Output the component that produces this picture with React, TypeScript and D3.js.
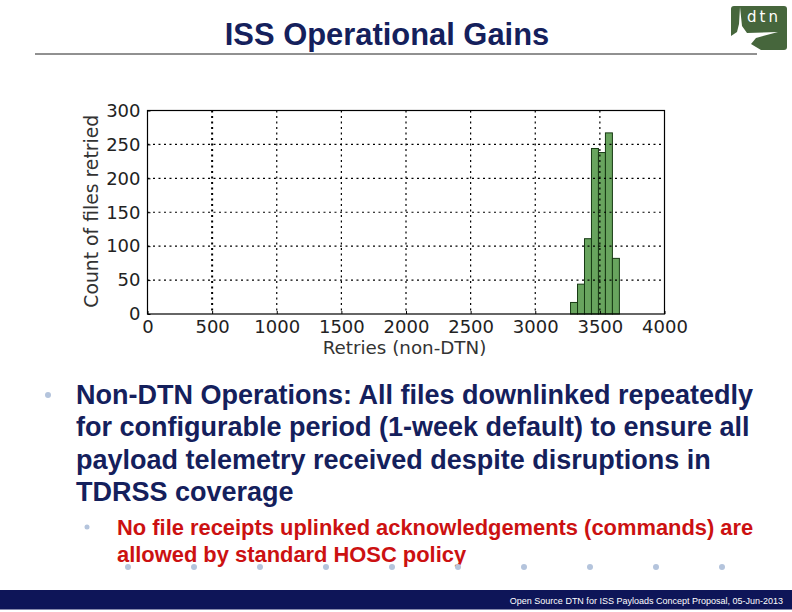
import * as d3 from 'd3';
import { useEffect, useRef } from 'react';

// histogram bins
const binStarts = [3273, 3327, 3381, 3435, 3489, 3543, 3597];
const binWidth = 54;
const counts = [17, 44, 111, 244, 238, 267, 82];

const xTicks = [0, 500, 1000, 1500, 2000, 2500, 3000, 3500, 4000];
const yTicks = [0, 50, 100, 150, 200, 250, 300];

const title = 'ISS Operational Gains';
const xLabel = 'Retries (non-DTN)';
const yLabel = 'Count of files retried';
const bulletLines = [
    'Non-DTN Operations: All files downlinked repeatedly',
    'for configurable period (1-week default) to ensure all',
    'payload telemetry received despite disruptions in',
    'TDRSS coverage',
];
const subBulletLines = [
    'No file receipts uplinked acknowledgements (commands) are',
    'allowed by standard HOSC policy',
];
const footer = 'Open Source DTN for ISS Payloads Concept Proposal, 05-Jun-2013';
const stripDots = [128, 194, 260, 326, 392, 458, 524, 590, 656, 722];

export default function App() {
    const ref = useRef<any>();

    useEffect(() => {
        const svg = d3.select<any, any>(ref.current);
        svg.selectAll('*').remove();

        const margin = { top: 110.5, right: 127.5, bottom: 298, left: 147.5 };
        const width = 792;
        const height = 612;
        const innerW = width - margin.left - margin.right;
        const innerH = height - margin.top - margin.bottom;

        // slide furniture
        svg.append('rect').attr('width', width).attr('height', height).attr('fill', '#ffffff');
        svg.append('text')
            .attr('x', 387).attr('y', 45)
            .attr('text-anchor', 'middle')
            .attr('font-family', '"Liberation Sans"')
            .attr('font-weight', 700)
            .attr('font-size', 30.9)
            .attr('fill', '#14205c')
            .text(title);
        svg.append('line')
            .attr('x1', 35).attr('x2', 757).attr('y1', 54).attr('y2', 54)
            .attr('stroke', '#222').attr('stroke-width', 1);

        // dtn logo
        const logo = svg.append('g').attr('transform', 'translate(731,6)');
        logo.append('rect').attr('width', 56).attr('height', 44).attr('rx', 3).attr('fill', '#46663c');
        logo.append('path')
            .attr('d', 'M9,1 L11,20 L16,27 L47,26 L25,32 L20,38 L30,44 L0,44 L0,30 L6,26 L8,18 Z')
            .attr('fill', '#ffffff');
        logo.append('text')
            .attr('x', 16).attr('y', 16)
            .attr('font-family', '"DejaVu Sans"')
            .attr('font-size', 15)
            .attr('letter-spacing', 3)
            .attr('fill', '#ffffff')
            .text('dtn');

        // chart
        const chart = svg.append('g').attr('transform', `translate(${margin.left},${margin.top})`);
        const x = d3.scaleLinear().domain([0, 4000]).range([0, innerW]);
        const y = d3.scaleLinear().domain([0, 300]).range([innerH, 0]);

        chart.selectAll('.bar')
            .data(counts)
            .join('rect')
            .attr('class', 'bar')
            .attr('x', (d, i) => x(binStarts[i]))
            .attr('y', d => y(d))
            .attr('width', x(binWidth))
            .attr('height', d => innerH - y(d))
            .attr('fill', '#68a45e')
            .attr('stroke', '#173a14')
            .attr('stroke-width', 1);

        // grid goes over the bars, as in the picture
        chart.append('g').selectAll('line')
            .data(xTicks.slice(1, -1))
            .join('line')
            .attr('x1', d => x(d)).attr('x2', d => x(d))
            .attr('y1', 0).attr('y2', innerH)
            .attr('stroke', '#000')
            .attr('stroke-width', d => (d === 500 ? 2 : 1.2))
            .attr('stroke-dasharray', '2,3.5');
        chart.append('g').selectAll('line')
            .data(yTicks.slice(1, -1))
            .join('line')
            .attr('x1', 0).attr('x2', innerW)
            .attr('y1', d => y(d)).attr('y2', d => y(d))
            .attr('stroke', '#000')
            .attr('stroke-width', 1.2)
            .attr('stroke-dasharray', '2,3.5');

        const xAxis = d3.axisBottom(x).tickValues(xTicks).tickFormat(d3.format('d')).tickSize(-3).tickPadding(6);
        const yAxis = d3.axisLeft(y).tickValues(yTicks).tickFormat(d3.format('d')).tickSize(-3).tickPadding(7);
        const styleAxis = (g: any) => {
            g.select('.domain').remove();
            g.selectAll('text')
                .attr('font-family', '"DejaVu Sans"')
                .attr('font-size', 18)
                .attr('fill', '#222');
            g.selectAll('line').attr('stroke', '#000');
        };
        chart.append('g').attr('transform', `translate(0,${innerH})`).call(xAxis).call(styleAxis);
        chart.append('g').call(yAxis).call(styleAxis);

        chart.append('rect')
            .attr('width', innerW).attr('height', innerH)
            .attr('fill', 'none').attr('stroke', '#000').attr('stroke-width', 1.2);

        chart.append('text')
            .attr('x', 257).attr('y', innerH + 40)
            .attr('text-anchor', 'middle')
            .attr('font-family', '"DejaVu Sans"')
            .attr('font-size', 18.3)
            .attr('fill', '#333')
            .text(xLabel);
        chart.append('text')
            .attr('transform', `translate(-49.5,${innerH / 2 - 1}) rotate(-90)`)
            .attr('text-anchor', 'middle')
            .attr('font-family', '"DejaVu Sans"')
            .attr('font-size', 18.8)
            .attr('fill', '#333')
            .text(yLabel);

        // bullets
        svg.append('circle').attr('cx', 48).attr('cy', 395).attr('r', 3).attr('fill', '#b4c4dc');
        svg.append('g').selectAll('text')
            .data(bulletLines)
            .join('text')
            .attr('x', 76)
            .attr('y', (d, i) => 404 + i * 32.3)
            .attr('font-family', '"Liberation Sans"')
            .attr('font-weight', 700)
            .attr('font-size', 27)
            .attr('fill', '#14205c')
            .text(d => d);

        svg.append('circle').attr('cx', 87).attr('cy', 527).attr('r', 2.5).attr('fill', '#b4c4dc');
        svg.append('g').selectAll('text')
            .data(subBulletLines)
            .join('text')
            .attr('x', 117)
            .attr('y', (d, i) => 535 + i * 27)
            .attr('font-family', '"Liberation Sans"')
            .attr('font-weight', 700)
            .attr('font-size', 21.9)
            .attr('fill', '#cc1111')
            .text(d => d);

        svg.append('g').selectAll('circle')
            .data(stripDots)
            .join('circle')
            .attr('cx', d => d).attr('cy', 567).attr('r', 3)
            .attr('fill', '#b4c4dc');

        // footer band
        svg.append('rect').attr('x', 0).attr('y', 590).attr('width', width).attr('height', 19.5)
            .attr('fill', '#0e1558');
        svg.append('text')
            .attr('x', 783).attr('y', 604)
            .attr('text-anchor', 'end')
            .attr('font-family', '"Liberation Sans"')
            .attr('font-size', 9)
            .attr('fill', '#ffffff')
            .text(footer);
    });

    return (
        <svg ref={ref} width={792} height={612} style={{ position: 'absolute', left: 0, top: 0 }}></svg>
    );
}
